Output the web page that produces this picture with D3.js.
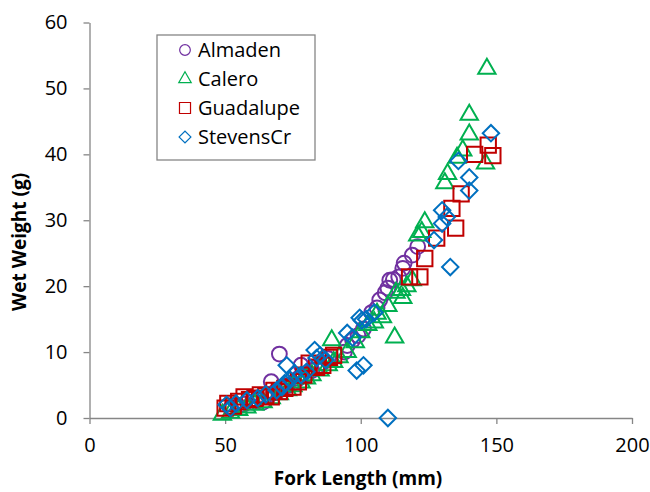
<!DOCTYPE html>
<html>
<head>
<meta charset="utf-8">
<script src="https://cdn.jsdelivr.net/npm/d3@7"></script>
<style>
  body { margin: 0; background: #fff; }
  svg { display: block; font-family: "Open Sans", sans-serif; }
</style>
</head>
<body>
<svg width="650" height="492"></svg>
<script>
// fork length (mm), wet weight (g) for each site
const almaden = [
  [52,1.5],[55,1.8],[57,2.1],[60,2.4],[62,2.7],[64,2.4],[66,3.4],[67,5.5],[68,3.8],[70,9.7],[71,4.4],
  [73,4.9],[75,5.3],[77,6.0],[78,8.0],[80,6.6],[82,7.2],[84,7.8],[86,8.4],[88,9.0],[94,10],
  [95,11],[97,11.8],[99,12.5],[101,13.5],[104,16],[106,16.7],[107,17.9],[109,19],[110,19.7],
  [110.7,20.9],[112,21],[114,21.4],[115.5,22.7],[116,23.5],[119,24.7],[121,26]
];
const calero = [
  [49,0.5],[52,0.8],[55,1.2],[58,1.6],[61,2.0],[64,2.4],[67,3.0],[70,3.6],[73,4.2],[75,4.8],
  [78,5.4],[80,6.0],[82,6.5],[85,7.2],[88,8.0],[89.3,11.8],[90,8.5],[92,9.2],[95,10],[98,11.5],
  [100,13],[102.6,14.1],[105,14.5],[106,15.8],[108,15.3],[110,17],[112.5,12.2],[113,19],
  [115,19.4],[115.5,18.2],[117,20],[119,20.9],[121,27.7],[122.5,28.2],[123.6,29.7],[131,35.6],
  [132,37],[135.5,39.5],[137.6,40.6],[140,43],[140,46],[146,38.6],[146.5,53]
];
const guadalupe = [
  [50,1.5],[51,2.2],[53,1.8],[55,2.5],[57,3.2],[59,2.8],[61,3.0],[63,3.5],[65,3.4],[67,3.2],
  [68,4.2],[70,4.0],[72,4.5],[75,4.7],[77,5.5],[79,6.5],[81,8.3],[83.7,7.7],[86,8.0],[88.5,9.2],
  [90,9.5],[118,21.4],[121.8,21.4],[123.6,24.2],[128,27.3],[133.6,31.8],[135,28.8],[137,34],
  [142,40],[147,41.4],[148.7,39.8]
];
const stevensCr = [
  [50.5,2],[52,1.5],[54,2.2],[58,2.7],[62,3.0],[65,3.6],[69,4.2],[71,4.7],[72,5.3],[72.7,8.0],
  [74,5.8],[75.6,6.8],[78,6.5],[80,7.0],[83,10.3],[83.7,9.1],[85,9.5],[87,8.8],[95,12.9],
  [97,12.2],[98.5,7.2],[99.6,15.2],[100.4,14.8],[101,8.0],[102,15],[105,16],[110,0],[127,27],
  [130,29.5],[130,31.5],[131.7,30.5],[133,22.9],[136,39],[140,34.5],[140,36.5],[148,43.2]
];
const seriesNames = ["Almaden", "Calero", "Guadalupe", "StevensCr"];
const xTicks = [0, 50, 100, 150, 200];
const yTicks = [0, 10, 20, 30, 40, 50, 60];

const series = [
  { name: seriesNames[0], data: almaden, color: "#7030A0", shape: "circle" },
  { name: seriesNames[1], data: calero, color: "#00B050", shape: "triangle" },
  { name: seriesNames[2], data: guadalupe, color: "#C00000", shape: "square" },
  { name: seriesNames[3], data: stevensCr, color: "#0070C0", shape: "diamond" }
];

const svg = d3.select("svg");

const x = d3.scaleLinear().domain([0, 200]).range([89.5, 632]);
const y = d3.scaleLinear().domain([0, 60]).range([418, 22.5]);

// marker paths, k = scale factor
function shapePath(shape, k) {
  if (shape === "circle") return d3.symbol(d3.symbolCircle, 172 * k * k)();
  if (shape === "square") return d3.symbol(d3.symbolSquare, 235 * k * k)();
  if (shape === "triangle") return d3.symbol(d3.symbolTriangle, 130 * k * k)();
  return d3.symbol(d3.symbolSquare, 135 * k * k)();
}

// axes
const xAxis = svg.append("g")
  .attr("transform", `translate(0,${y(0)})`)
  .call(d3.axisBottom(x).tickValues(xTicks).tickSize(6).tickSizeOuter(0).tickPadding(14));
const yAxis = svg.append("g")
  .attr("transform", `translate(${x(0)},0)`)
  .call(d3.axisLeft(y).tickValues(yTicks).tickSize(6).tickSizeOuter(0).tickPadding(16));

[xAxis, yAxis].forEach(a => {
  a.select(".domain").attr("stroke", "#868686").attr("stroke-width", 1.3);
  a.selectAll(".tick line").attr("stroke", "#868686").attr("stroke-width", 1.3);
  a.selectAll(".tick text").attr("fill", "#000").style("font-size", "20px")
    .style("font-family", "'Open Sans', sans-serif");
});

// axis titles
svg.append("text")
  .attr("x", 358).attr("y", 485)
  .attr("text-anchor", "middle")
  .style("font-size", "19px").style("font-weight", "bold")
  .text("Fork Length (mm)");

svg.append("text")
  .attr("transform", "translate(26,242) rotate(-90)")
  .attr("text-anchor", "middle")
  .style("font-size", "19px").style("font-weight", "bold")
  .text("Wet Weight (g)");

// points
series.forEach(s => {
  svg.append("g")
    .selectAll("path")
    .data(s.data)
    .enter()
    .append("path")
    .attr("d", shapePath(s.shape, 1))
    .attr("transform", d => `translate(${x(d[0])},${y(d[1])})` + (s.shape === "diamond" ? " rotate(45)" : ""))
    .attr("fill", "none")
    .attr("stroke", s.color)
    .attr("stroke-width", 2);
});

// legend
const legend = svg.append("g");
legend.append("rect")
  .attr("x", 157).attr("y", 35).attr("width", 158).attr("height", 125)
  .attr("fill", "#fff").attr("stroke", "#868686").attr("stroke-width", 1.3);

const rows = legend.selectAll(".row")
  .data(series)
  .enter()
  .append("g")
  .attr("transform", (d, i) => `translate(185,${50 + i * 29})`);

rows.append("path")
  .attr("d", d => shapePath(d.shape, 0.72))
  .attr("transform", d => d.shape === "diamond" ? "rotate(45)" : null)
  .attr("fill", "none")
  .attr("stroke", d => d.color)
  .attr("stroke-width", 1.2);

rows.append("text")
  .attr("x", 13).attr("dy", "0.36em")
  .style("font-size", "20px")
  .text(d => d.name);
</script>
</body>
</html>
